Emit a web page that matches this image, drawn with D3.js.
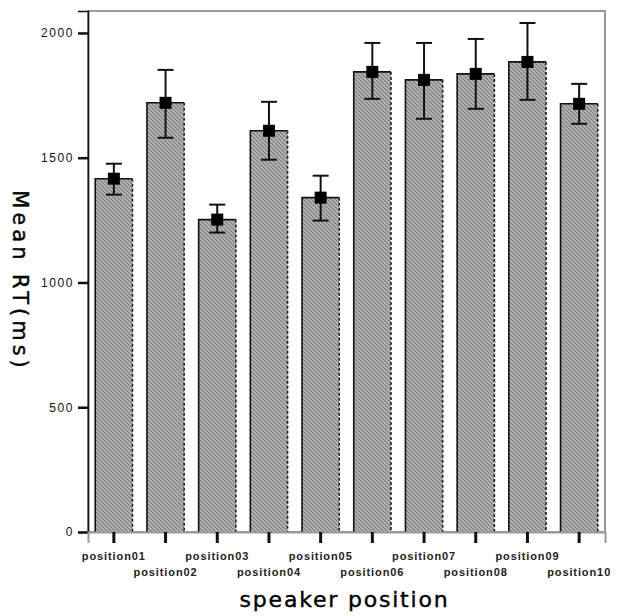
<!DOCTYPE html>
<html>
<head>
<meta charset="utf-8">
<script src="https://cdn.jsdelivr.net/npm/d3@7"></script>
<style>
  html, body { margin: 0; padding: 0; background: #fff; }
  svg { display: block; }
</style>
</head>
<body>
<script>
// Mean reaction time per speaker position, with 95% confidence intervals
const positions = ["position01", "position02", "position03", "position04", "position05",
                   "position06", "position07", "position08", "position09", "position10"];
const meanRT = [1416, 1720, 1252, 1608, 1340, 1844, 1812, 1836, 1884, 1716];
const ciLow  = [1352, 1580, 1200, 1492, 1248, 1736, 1656, 1696, 1732, 1636];
const ciHigh = [1476, 1852, 1312, 1724, 1428, 1960, 1960, 1976, 2040, 1796];
const yTicks = [0, 500, 1000, 1500, 2000];

const W = 617, H = 616;
const plot = { left: 88, right: 605, top: 11, bottom: 532 };

const svg = d3.select("body").append("svg").attr("width", W).attr("height", H);
svg.append("rect").attr("width", W).attr("height", H).attr("fill", "#fff");

// Hatched fill for the bars
const defs = svg.append("defs");
const pat = defs.append("pattern")
  .attr("id", "hatch").attr("patternUnits", "userSpaceOnUse")
  .attr("width", 4).attr("height", 4);
pat.append("rect").attr("width", 4).attr("height", 4).attr("fill", "#b6b6b6");
pat.append("path").attr("d", "M-1,-1 L5,5 M3,-1 L5,1 M-1,3 L1,5")
  .attr("stroke", "#7c7c7c").attr("stroke-width", 1.1);

const x = d3.scaleBand().domain(positions)
  .range([plot.left, plot.right]).paddingInner(0.28).paddingOuter(0.14);
const y = d3.scaleLinear().domain([0, 2088]).range([plot.bottom, plot.top]);

// Frame
svg.append("rect")
  .attr("x", plot.left).attr("y", plot.top)
  .attr("width", plot.right - plot.left).attr("height", plot.bottom - plot.top)
  .attr("fill", "none").attr("stroke", "#9a9a9a").attr("stroke-width", 2);

const rows = positions.map((p, i) => ({ p, m: meanRT[i], lo: ciLow[i], hi: ciHigh[i] }));

// Bars
const bars = svg.append("g");
bars.selectAll("rect").data(rows).join("rect")
  .attr("x", d => x(d.p)).attr("y", d => y(d.m))
  .attr("width", x.bandwidth()).attr("height", d => y(0) - y(d.m))
  .attr("fill", "url(#hatch)");
// solid left/top outline, dashed right edge
bars.selectAll("path.edge").data(rows).join("path").attr("class", "edge")
  .attr("d", d => `M${x(d.p)},${y(0)} V${y(d.m)} H${x(d.p) + x.bandwidth()}`)
  .attr("fill", "none").attr("stroke", "#111").attr("stroke-width", 1.6);
bars.selectAll("line.rEdge").data(rows).join("line").attr("class", "rEdge")
  .attr("x1", d => x(d.p) + x.bandwidth()).attr("x2", d => x(d.p) + x.bandwidth())
  .attr("y1", d => y(d.m)).attr("y2", y(0))
  .attr("stroke", "#222").attr("stroke-width", 1.6).attr("stroke-dasharray", "3,2");

// Y axis
const yAxis = svg.append("g").attr("transform", `translate(${plot.left},0)`)
  .call(d3.axisLeft(y).tickValues(yTicks).tickSize(10).tickPadding(4).tickFormat(d3.format("d")));
yAxis.select(".domain").attr("stroke", "#111").attr("stroke-width", 1.6);
yAxis.selectAll(".tick line").attr("stroke", "#111").attr("stroke-width", 2.5);
yAxis.selectAll(".tick text")
  .attr("font-family", "Liberation Sans, Arial, sans-serif").attr("font-size", 12)
  .attr("letter-spacing", "1.6px").attr("fill", "#111");

// X axis
const xAxis = svg.append("g").attr("transform", `translate(0,${plot.bottom})`)
  .call(d3.axisBottom(x).tickSize(11).tickFormat(""));
xAxis.select(".domain").attr("stroke", "#9a9a9a").attr("stroke-width", 2);
xAxis.selectAll(".tick line").attr("stroke", "#111").attr("stroke-width", 3);
svg.append("g").selectAll("text").data(positions).join("text")
  .attr("x", d => x(d) + x.bandwidth() / 2)
  .attr("y", (d, i) => i % 2 === 0 ? 560 : 576)
  .attr("text-anchor", "middle")
  .attr("font-family", "Liberation Sans, Arial, sans-serif").attr("font-size", 11)
  .attr("font-weight", "bold").attr("letter-spacing", "0.9px").attr("fill", "#222")
  .text(d => d);

// Error bars and mean markers
const eb = svg.append("g").attr("stroke", "#111").attr("stroke-width", 2);
const cx = d => x(d.p) + x.bandwidth() / 2;
eb.selectAll("line.v").data(rows).join("line").attr("class", "v")
  .attr("x1", cx).attr("x2", cx).attr("y1", d => y(d.lo)).attr("y2", d => y(d.hi));
eb.selectAll("line.hiCap").data(rows).join("line").attr("class", "hiCap")
  .attr("x1", d => cx(d) - 8).attr("x2", d => cx(d) + 8)
  .attr("y1", d => y(d.hi)).attr("y2", d => y(d.hi));
eb.selectAll("line.loCap").data(rows).join("line").attr("class", "loCap")
  .attr("x1", d => cx(d) - 8).attr("x2", d => cx(d) + 8)
  .attr("y1", d => y(d.lo)).attr("y2", d => y(d.lo));
svg.append("g").selectAll("rect").data(rows).join("rect")
  .attr("x", d => cx(d) - 6).attr("y", d => y(d.m) - 6)
  .attr("width", 12).attr("height", 12).attr("fill", "#000");

// Axis titles
svg.append("text")
  .attr("x", plot.left + (plot.right - plot.left) / 2 - 2).attr("y", 607)
  .attr("text-anchor", "middle")
  .attr("font-family", "DejaVu Sans, sans-serif").attr("font-size", 22)
  .attr("letter-spacing", "1.8px").attr("fill", "#000")
  .attr("stroke", "#000").attr("stroke-width", 0.4)
  .text("speaker position");
svg.append("text")
  .attr("transform", "translate(13,281) rotate(90)")
  .attr("text-anchor", "middle")
  .attr("font-family", "DejaVu Sans, sans-serif").attr("font-size", 21)
  .attr("letter-spacing", "4px").attr("fill", "#000")
  .attr("stroke", "#000").attr("stroke-width", 0.4)
  .text("Mean RT(ms)");
</script>
</body>
</html>
